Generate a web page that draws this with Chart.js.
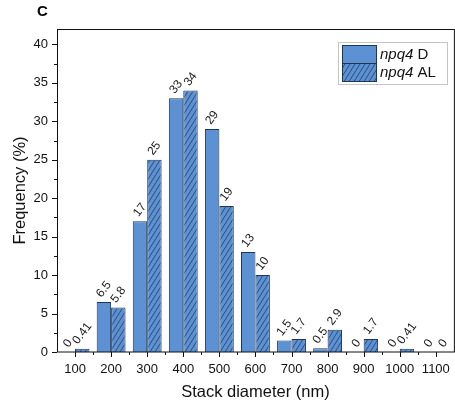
<!DOCTYPE html>
<html>
<head>
<meta charset="utf-8">
<script src="https://cdn.jsdelivr.net/npm/chart.js@4"></script>
<style>
  html, body { margin: 0; padding: 0; background: #fff; overflow: hidden; }
  #wrap { width: 460px; height: 406px; position: relative; }
</style>
</head>
<body>
<div id="wrap"><canvas id="c"></canvas></div>
<script>
// Stack diameter classes (nm) and frequency (%) per genotype/condition
const diameters = ['100', '200', '300', '400', '500', '600', '700', '800', '900', '1000', '1100'];
const freqD  = [0, 6.5, 17, 33, 29, 13, 1.5, 0.5, 0, 0, 0];
const freqAL = [0.41, 5.8, 25, 34, 19, 10, 1.7, 2.9, 1.7, 0.41, 0];
const seriesTags = ['D', 'AL'];
const yTicks = [0, 5, 10, 15, 20, 25, 30, 35, 40];

const FONT = '"Liberation Sans", Arial, sans-serif';
const BLUE = '#5c91d3';
const EDGE = '#1e3556';
const HATCH = '#27466f';
const LABEL_ANGLE = 53 * Math.PI / 180;

// diagonal hatch fill for the AL series
function hatchPattern() {
  const w = 5, h = 8;
  const c = document.createElement('canvas');
  c.width = w; c.height = h;
  const g = c.getContext('2d');
  g.fillStyle = BLUE;
  g.fillRect(0, 0, w, h);
  g.strokeStyle = HATCH;
  g.lineWidth = 0.9;
  for (const k of [-1, 0, 1]) {
    g.beginPath();
    g.moveTo(k * w, h);
    g.lineTo(k * w + w, 0);
    g.stroke();
  }
  return c.getContext('2d').createPattern(c, 'repeat');
}
const hatch = hatchPattern();

// frame, tick marks, panel letter, legend and value labels
const framePlugin = {
  id: 'frame',
  afterDraw(chart) {
    const { ctx, chartArea: a, scales: { x, y } } = chart;
    ctx.save();
    ctx.strokeStyle = '#111';
    ctx.lineWidth = 1;
    ctx.strokeRect(a.left + 0.5, a.top + 0.5, a.right - a.left, a.bottom - a.top - 0.5);
    ctx.beginPath();
    yTicks.forEach((v, i) => {
      const py = Math.round(y.getPixelForValue(v)) + 0.5;
      ctx.moveTo(a.left - 5, py); ctx.lineTo(a.left, py);
      if (i < yTicks.length - 1) {
        const pm = Math.round(y.getPixelForValue((v + yTicks[i + 1]) / 2)) + 0.5;
        ctx.moveTo(a.left - 3, pm); ctx.lineTo(a.left, pm);
      }
    });
    diameters.forEach((d, i) => {
      const px = Math.round(x.getPixelForValue(i)) + 0.5;
      ctx.moveTo(px, a.bottom); ctx.lineTo(px, a.bottom + 5);
      if (i < diameters.length - 1) {
        const pm = Math.round((x.getPixelForValue(i) + x.getPixelForValue(i + 1)) / 2) + 0.5;
        ctx.moveTo(pm, a.bottom); ctx.lineTo(pm, a.bottom + 3);
      }
    });
    ctx.stroke();

    ctx.fillStyle = '#000';
    ctx.font = 'bold 15px ' + FONT;
    ctx.textAlign = 'left';
    ctx.textBaseline = 'middle';
    ctx.fillText('C', 37, 12);

    // legend
    const lx = 338, ly = 42, lw = 109, lh = 42;
    ctx.strokeStyle = '#c4c4c4';
    ctx.strokeRect(lx + 0.5, ly + 0.5, lw, lh);
    chart.data.datasets.forEach((ds, i) => {
      const sy = ly + 3 + i * 18;
      ctx.fillStyle = ds.backgroundColor;
      ctx.fillRect(342, sy, 34, 18);
      ctx.strokeStyle = EDGE;
      ctx.strokeRect(342.5, sy + 0.5, 34, 18);
      const ty = sy + 10;
      ctx.fillStyle = '#111';
      ctx.font = 'italic 15px ' + FONT;
      ctx.fillText('npq4', 380, ty);
      const wItal = ctx.measureText('npq4').width;
      ctx.font = '15px ' + FONT;
      ctx.fillText(' ' + seriesTags[i], 380 + wItal, ty);
    });
    ctx.restore();
  },
  afterDatasetsDraw(chart) {
    const { ctx } = chart;
    ctx.save();
    ctx.fillStyle = '#1a1a1a';
    ctx.font = '12px ' + FONT;
    ctx.textAlign = 'left';
    ctx.textBaseline = 'middle';
    chart.data.datasets.forEach((ds, di) => {
      chart.getDatasetMeta(di).data.forEach((bar, i) => {
        const txt = String(ds.data[i]);
        const half = ctx.measureText(txt).width / 2;
        ctx.save();
        ctx.translate(bar.x - half * Math.cos(LABEL_ANGLE), bar.y - 6);
        ctx.rotate(-LABEL_ANGLE);
        ctx.fillText(txt, 0, 0);
        ctx.restore();
      });
    });
    ctx.restore();
  }
};

new Chart(document.getElementById('c'), {
  type: 'bar',
  data: {
    labels: diameters,
    datasets: [
      { label: 'npq4 D', data: freqD, backgroundColor: BLUE, borderColor: EDGE, borderWidth: 1 },
      { label: 'npq4 AL', data: freqAL, backgroundColor: hatch, borderColor: EDGE, borderWidth: 1 }
    ]
  },
  options: {
    responsive: true,
    maintainAspectRatio: false,
    animation: false,
    devicePixelRatio: 1,
    layout: { padding: { top: 29, right: 4, left: 0, bottom: 0 } },
    datasets: { bar: { categoryPercentage: 0.8, barPercentage: 1.0 } },
    plugins: { legend: { display: false }, tooltip: { enabled: false } },
    scales: {
      x: {
        grid: { display: false, drawTicks: false },
        border: { display: false },
        ticks: { color: '#111', font: { size: 13, family: FONT }, padding: 10, maxRotation: 0, autoSkip: false },
        title: { display: true, text: 'Stack diameter (nm)', color: '#111', font: { size: 16.5, family: FONT }, padding: { top: 0, bottom: 4 } },
        afterFit(s) { s.height = 54; }
      },
      y: {
        min: 0, max: 42,
        grid: { display: false, drawTicks: false },
        border: { display: false },
        ticks: { color: '#111', font: { size: 13, family: FONT }, padding: 9 },
        afterBuildTicks(s) { s.ticks = yTicks.map(v => ({ value: v })); },
        title: { display: true, text: 'Frequency (%)', color: '#111', font: { size: 16.5, family: FONT }, padding: { top: 11, bottom: 0 } },
        afterFit(s) { s.width = 57; }
      }
    }
  },
  plugins: [framePlugin]
});
</script>
</body>
</html>
